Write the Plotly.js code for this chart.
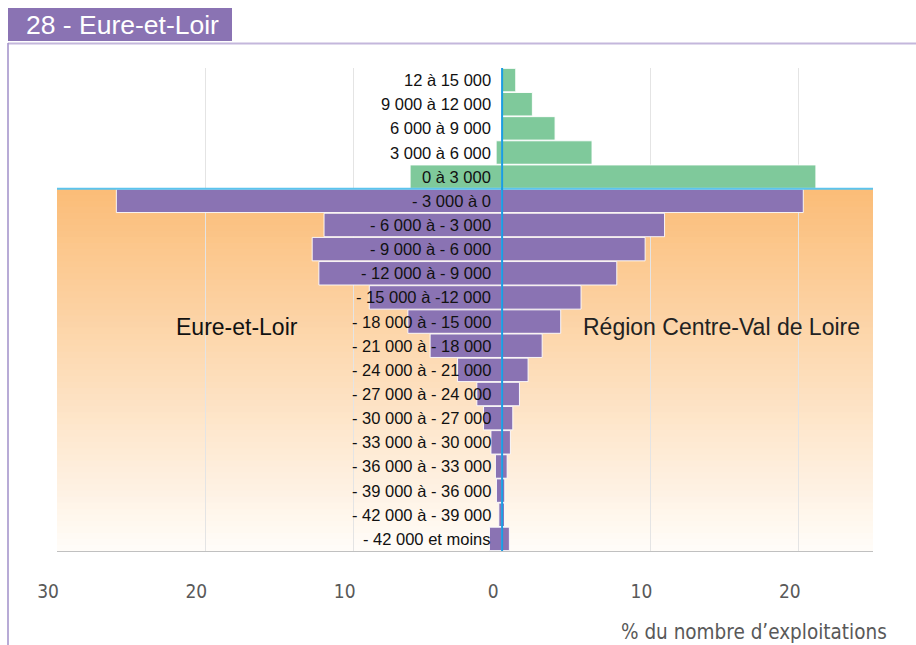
<!DOCTYPE html>
<html>
<head>
<meta charset="utf-8">
<script src="https://cdn.plot.ly/plotly-3.0.1.min.js"></script>
<style>
html,body{margin:0;padding:0;background:#fff;}
#chart{width:916px;height:645px;}
</style>
</head>
<body>
<div id="chart"></div>
<script>
// ---- Data ----
const categories = [
  "12 à 15 000", "9 000 à 12 000", "6 000 à 9 000", "3 000 à 6 000", "0 à 3 000",
  "- 3 000 à 0", "- 6 000 à - 3 000", "- 9 000 à - 6 000", "- 12 000 à - 9 000",
  "- 15 000 à -12 000", "- 18 000 à - 15 000", "- 21 000 à - 18 000",
  "- 24 000 à - 21 000", "- 27 000 à - 24 000", "- 30 000 à - 27 000",
  "- 33 000 à - 30 000", "- 36 000 à - 33 000", "- 39 000 à - 36 000",
  "- 42 000 à - 39 000", "- 42 000 et moins"
];
// % du nombre d'exploitations — Eure-et-Loir (drawn to the left)
const eureEtLoir = [0.05, 0.05, 0.05, 0.4, 6.2, 26.0, 12.0, 12.8, 12.35, 8.95, 6.35, 4.85, 3.0, 1.7, 1.25, 0.75, 0.45, 0.38, 0.22, 0.85];
// % du nombre d'exploitations — Région Centre-Val de Loire (drawn to the right)
const centreValDeLoire = [0.92, 2.04, 3.57, 6.06, 21.15, 20.3, 10.95, 9.64, 7.73, 5.32, 3.95, 2.7, 1.75, 1.17, 0.72, 0.56, 0.34, 0.18, 0.16, 0.49];
const tickValues = [-30, -20, -10, 0, 10, 20];
const tickLabels = ["30", "20", "10", "0", "10", "20"];
const leftName = "Eure-et-Loir";
const rightName = "Région Centre-Val de Loire";
const pageTitle = "28 - Eure-et-Loir";
const axisTitle = "% du nombre d’exploitations";

// ---- Styling ----
const GREEN = "#7fc99b";
const PURPLE = "#8a73b3";
const isNegative = c => c.trim().startsWith("-");
const barColors = categories.map(c => isNegative(c) ? PURPLE : GREEN);
const firstNeg = categories.findIndex(isNegative);

const W = 916, H = 645;
const M = {l: 57, r: 43, t: 68, b: 94};
const PW = W - M.l - M.r, PH = H - M.t - M.b;
const px = x => (x - M.l) / PW;
const py = y => (H - M.b - y) / PH;
const SANS = "Liberation Sans, Arial, sans-serif";
const NARROW = "Liberation Sans Narrow, Arial Narrow, DejaVu Sans Condensed, sans-serif";

const traces = [
  {
    type: "bar", orientation: "h", name: leftName,
    y: categories, x: eureEtLoir.map(v => -v),
    marker: {color: barColors, line: {color: "rgba(255,255,255,0.9)", width: 1}},
    hoverinfo: "skip"
  },
  {
    type: "bar", orientation: "h", name: rightName,
    y: categories, x: centreValDeLoire,
    marker: {color: barColors, line: {color: "rgba(255,255,255,0.9)", width: 1}},
    hoverinfo: "skip"
  }
];

const shapes = [];
// Gradient background behind the negative categories (decorative bands)
const nb = 60;
const yTop = firstNeg - 0.5, yBot = categories.length - 0.5;
const c0 = [251, 189, 120], c1 = [255, 252, 248];
for (let i = 0; i < nb; i++) {
  const t = i / (nb - 1);
  const c = c0.map((v, k) => Math.round(v + (c1[k] - v) * t));
  const col = `rgb(${c[0]},${c[1]},${c[2]})`;
  shapes.push({
    type: "rect", layer: "below", xref: "paper", yref: "y",
    x0: 0, x1: 1,
    y0: yTop + (yBot - yTop) * i / nb,
    y1: Math.min(yBot, yTop + (yBot - yTop) * (i + 1) / nb + 0.1),
    fillcolor: col, line: {width: 0}
  });
}
// blue separator line between positive and negative categories
shapes.push({type: "line", layer: "above", xref: "paper", yref: "y", x0: 0, x1: 1, y0: yTop, y1: yTop,
  line: {color: "#5bc4ee", width: 2}});
// blue vertical zero line
shapes.push({type: "line", layer: "above", xref: "x", yref: "paper", x0: 0, x1: 0, y0: 0, y1: 1,
  line: {color: "#1b9de2", width: 2}});
// page header decoration
shapes.push({type: "rect", layer: "above", xref: "paper", yref: "paper",
  x0: px(8), x1: px(232), y0: py(41), y1: py(8), fillcolor: PURPLE, line: {width: 0}});
shapes.push({type: "line", layer: "above", xref: "paper", yref: "paper",
  x0: px(8), x1: px(916), y0: py(43.5), y1: py(43.5), line: {color: "#c4b7dc", width: 2}});
shapes.push({type: "line", layer: "above", xref: "paper", yref: "paper",
  x0: px(8), x1: px(8), y0: py(43), y1: py(645), line: {color: "#a08fc8", width: 1.5}});

const annotations = categories.map(c => ({
  xref: "x", yref: "y", x: 0, y: c, xanchor: "right", yanchor: "middle",
  xshift: -9, showarrow: false, text: c,
  font: {family: SANS, size: 16.5, color: "#111"}
}));
annotations.push({
  xref: "x", yref: "paper", x: -17.9, y: py(327), xanchor: "center", yanchor: "middle",
  showarrow: false, text: leftName,
  font: {family: SANS, size: 23, color: "#111"}
});
annotations.push({
  xref: "x", yref: "paper", x: 14.8, y: py(327), xanchor: "center", yanchor: "middle",
  showarrow: false, text: rightName,
  font: {family: SANS, size: 23, color: "#222"}
});
annotations.push({
  xref: "paper", yref: "paper", x: px(889), y: py(632), xanchor: "right", yanchor: "middle",
  showarrow: false, text: axisTitle,
  font: {family: NARROW, size: 20.5, color: "#595959"}
});
annotations.push({
  xref: "paper", yref: "paper", x: px(24), y: py(24.5), xanchor: "left", yanchor: "middle",
  showarrow: false, text: pageTitle,
  font: {family: SANS, size: 26.5, color: "#ffffff"}
});

const layout = {
  width: W, height: H,
  margin: M,
  paper_bgcolor: "#ffffff", plot_bgcolor: "#ffffff",
  barmode: "relative", bargap: 0.03,
  showlegend: false,
  xaxis: {
    range: [-30, 25], tickvals: tickValues, ticktext: tickLabels,
    showgrid: true, gridcolor: "#e4e4e4", gridwidth: 1,
    zeroline: false, showline: true, linecolor: "#c0c0c0", linewidth: 1,
    ticks: "", ticklabelstandoff: 23, ticklabelshift: -9,
    tickfont: {family: NARROW, size: 19, color: "#595959"},
    fixedrange: true
  },
  yaxis: {
    type: "category", categoryorder: "array", categoryarray: categories,
    range: [categories.length - 0.5, -0.5],
    showticklabels: false, ticks: "", showgrid: false, zeroline: false, showline: false,
    fixedrange: true
  },
  shapes: shapes,
  annotations: annotations
};

Plotly.newPlot("chart", traces, layout, {displayModeBar: false, staticPlot: true});
</script>
</body>
</html>
